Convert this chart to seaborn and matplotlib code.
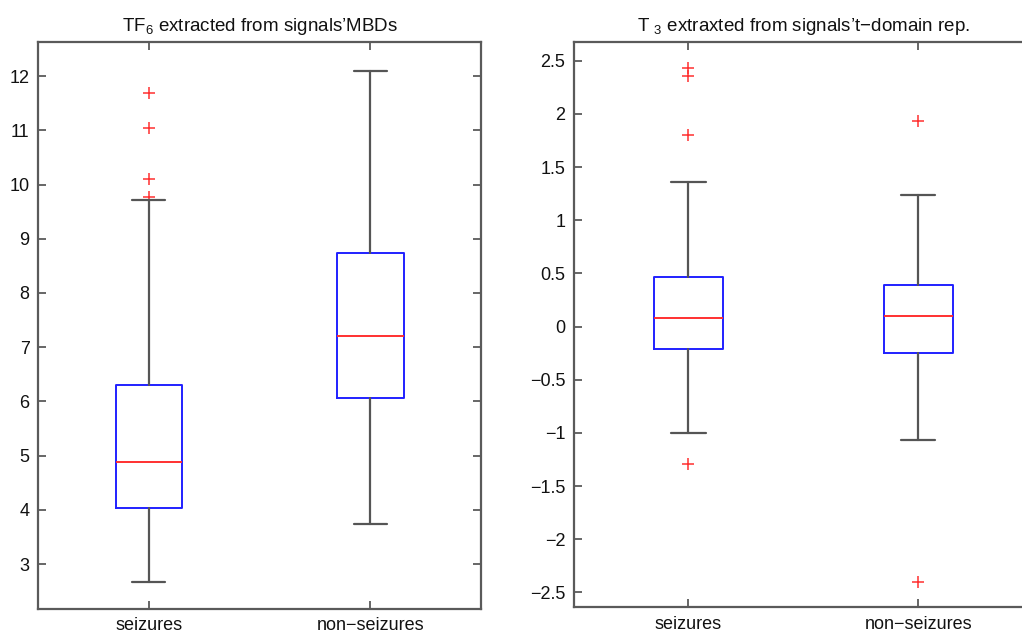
import numpy as np
import pandas as pd
import matplotlib
matplotlib.use("Agg")
import matplotlib.pyplot as plt
import seaborn as sns

# Box statistics
groups = ["seizures", "non\u2212seizures"]

# TF6 from MBDs
tf6_whislo = [2.66, 3.73]
tf6_q1 = [4.03, 6.06]
tf6_med = [4.88, 7.21]
tf6_q3 = [6.30, 8.73]
tf6_whishi = [9.72, 12.10]
tf6_fliers = [[9.77, 10.11, 11.04, 11.68], []]

# T3 from t-domain
t3_whislo = [-1.00, -1.07]
t3_q1 = [-0.21, -0.25]
t3_med = [0.08, 0.10]
t3_q3 = [0.47, 0.39]
t3_whishi = [1.36, 1.24]
t3_fliers = [[-1.29, 1.80, 2.36, 2.43], [-2.40, 1.935]]

sns.set_theme(style="white")
plt.rcParams['font.family'] = ['Liberation Sans', 'DejaVu Sans']
plt.rcParams['mathtext.fontset'] = 'custom'
plt.rcParams['mathtext.rm'] = 'Liberation Sans'
plt.rcParams['text.color'] = '#111111'
plt.rcParams['xtick.labelcolor'] = '#111111'
plt.rcParams['ytick.labelcolor'] = '#111111'

fig = plt.figure(figsize=(10.22, 6.33), dpi=100)
ax1 = fig.add_axes([0.0372, 0.0379, 0.4335, 0.895])
ax2 = fig.add_axes([0.5612, 0.0406, 0.4496, 0.8923])

spine_col = '#5a5a5a'


def draw(ax, lo, q1, med, q3, hi, fliers, title, ylim, yticks, yticklabels):
    stats = []
    for i in range(len(groups)):
        stats.append(dict(whislo=lo[i], q1=q1[i], med=med[i], q3=q3[i],
                          whishi=hi[i], fliers=[], label=groups[i]))
    ax.bxp(stats, positions=[1, 2], widths=0.3, capwidths=0.15,
           showfliers=False,
           boxprops=dict(color='#2020ff', linewidth=1.4),
           medianprops=dict(color='#ff3030', linewidth=1.4),
           whiskerprops=dict(color='#555555', linewidth=1.6),
           capprops=dict(color='#555555', linewidth=1.6))
    fl = pd.DataFrame({
        'x': [i + 1 for i in range(len(groups)) for _ in fliers[i]],
        'y': [v for f in fliers for v in f],
    })
    sns.scatterplot(data=fl, x='x', y='y', marker='+', color='#ff3030',
                    s=80, linewidth=1.1, ax=ax, legend=False)
    ax.set_xlim(0.5, 2.5)
    ax.set_ylim(*ylim)
    ax.set_xticks([1, 2])
    ax.set_xticklabels(groups, fontsize=13)
    ax.set_yticks(yticks)
    ax.set_yticklabels(yticklabels, fontsize=13)
    ax.set_xlabel('')
    ax.set_ylabel('')
    ax.tick_params(direction='in', length=6, width=1.3, color=spine_col,
                   top=True, right=True, bottom=True, left=True, pad=6)
    for s in ax.spines.values():
        s.set_color(spine_col)
        s.set_linewidth(1.6)
        s.set_visible(True)
    ax.set_title(title, fontsize=13.5, pad=8)


draw(ax1, tf6_whislo, tf6_q1, tf6_med, tf6_q3, tf6_whishi, tf6_fliers,
     "TF$_6$ extracted from signals\u2019MBDs", (2.17, 12.62),
     [3, 4, 5, 6, 7, 8, 9, 10, 11, 12],
     ['3', '4', '5', '6', '7', '8', '9', '10', '11', '12'])
draw(ax2, t3_whislo, t3_q1, t3_med, t3_q3, t3_whishi, t3_fliers,
     "T $_3$ extraxted from signals\u2019t\u2212domain rep.", (-2.641, 2.672),
     [-2.5, -2, -1.5, -1, -0.5, 0, 0.5, 1, 1.5, 2, 2.5],
     ['\u22122.5', '\u22122', '\u22121.5', '\u22121', '\u22120.5', '0',
      '0.5', '1', '1.5', '2', '2.5'])

fig.savefig('out.png', dpi=100)
